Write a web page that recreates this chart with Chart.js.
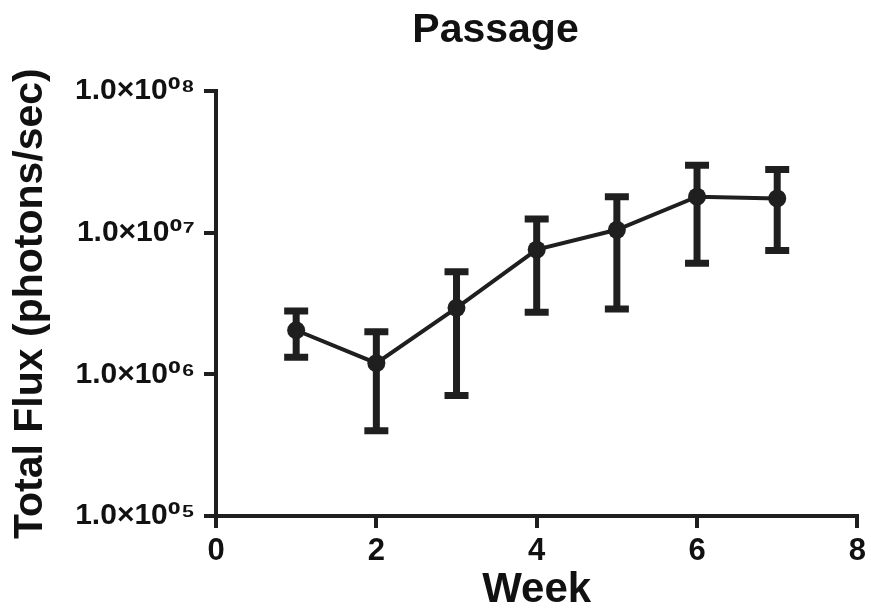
<!DOCTYPE html>
<html>
<head>
<meta charset="utf-8">
<script src="https://cdn.jsdelivr.net/npm/chart.js@4/dist/chart.umd.min.js"></script>
<style>
  html, body { margin: 0; padding: 0; background: #fff; }
  #c { display: block; }
</style>
</head>
<body>
<canvas id="c" width="871" height="609"></canvas>
<script>
// data
var weeks = [1, 2, 3, 4, 5, 6, 7];
var fluxMean = [2.05e6, 1.2e6, 2.95e6, 7.6e6, 1.05e7, 1.8e7, 1.75e7];
var fluxHigh = [2.8e6, 2.0e6, 5.3e6, 1.25e7, 1.8e7, 3.0e7, 2.8e7];
var fluxLow = [1.32e6, 4.0e5, 7.1e5, 2.75e6, 2.9e6, 6.1e6, 7.5e6];
var yTicks = [1e5, 1e6, 1e7, 1e8];
var yTickLabels = ["1.0×10⁰⁵", "1.0×10⁰⁶", "1.0×10⁰⁷", "1.0×10⁰⁸"];

var ink = "#1f1f1f";
var sans = "'Liberation Sans', Arial, sans-serif";
// Liberation lacks some superscript digits, so let DejaVu fill them in
var tickFamily = "'Liberation Sans', 'DejaVu Sans', sans-serif";

// draw the error bars with the chart's own scales
var errorBars = {
    id: "errorBars",
    afterDatasetsDraw: function (chart) {
        var ctx = chart.ctx;
        var xs = chart.scales.x, ys = chart.scales.y;
        ctx.save();
        ctx.strokeStyle = ink;
        ctx.lineWidth = 7;
        ctx.lineCap = "butt";
        for (var i = 0; i < weeks.length; i++) {
            var x = xs.getPixelForValue(weeks[i]);
            var top = ys.getPixelForValue(fluxHigh[i]);
            var bot = ys.getPixelForValue(fluxLow[i]);
            ctx.beginPath();
            ctx.moveTo(x, top);
            ctx.lineTo(x, bot);
            ctx.moveTo(x - 12, top);
            ctx.lineTo(x + 12, top);
            ctx.moveTo(x - 12, bot);
            ctx.lineTo(x + 12, bot);
            ctx.stroke();
        }
        ctx.restore();
    }
};

// the title in the original sits a bit right of the page centre
var titleShift = {
    id: "titleShift",
    afterLayout: function (chart) {
        if (chart.titleBlock) {
            chart.titleBlock.left += 66;
            chart.titleBlock.right += 66;
        }
    }
};

var ctx = document.getElementById("c").getContext("2d");
new Chart(ctx, {
    type: "line",
    data: {
        datasets: [{
            data: weeks.map(function (w, i) { return { x: w, y: fluxMean[i] }; }),
            borderColor: ink,
            backgroundColor: ink,
            borderWidth: 4,
            pointRadius: 9,
            pointBackgroundColor: ink,
            pointBorderWidth: 0,
            tension: 0
        }]
    },
    options: {
        responsive: false,
        animation: false,
        layout: { padding: { left: 0, right: 12, top: 0, bottom: 0 } },
        plugins: {
            legend: { display: false },
            tooltip: { enabled: false },
            title: {
                display: true,
                text: "Passage",
                color: "#111",
                font: { family: sans, size: 41, weight: "bold" },
                padding: { top: 6, bottom: 36 }
            }
        },
        scales: {
            x: {
                type: "linear",
                min: 0,
                max: 8,
                afterFit: function (s) { s.height = 93; },
                border: { display: true, color: ink, width: 4 },
                grid: { drawOnChartArea: false, color: ink, lineWidth: 4, tickLength: 12 },
                ticks: {
                    stepSize: 2,
                    color: "#111",
                    padding: 5,
                    font: { family: sans, size: 31, weight: "bold" }
                },
                title: {
                    display: true,
                    text: "Week",
                    color: "#111",
                    font: { family: sans, size: 42, weight: "bold", lineHeight: 0.9 },
                    padding: { top: 0, bottom: 0 }
                }
            },
            y: {
                type: "logarithmic",
                min: 1e5,
                max: 1e8,
                afterFit: function (s) { s.width = 216; },
                afterBuildTicks: function (s) {
                    s.ticks = yTicks.map(function (v) { return { value: v, major: true }; });
                },
                border: { display: true, color: ink, width: 4 },
                grid: { drawOnChartArea: false, color: ink, lineWidth: 4, tickLength: 12 },
                ticks: {
                    color: "#111",
                    padding: 9,
                    autoSkip: false,
                    font: { family: tickFamily, size: 30, weight: "bold" },
                    callback: function (v) {
                        var k = yTicks.indexOf(v);
                        return k >= 0 ? yTickLabels[k] : "";
                    }
                },
                title: {
                    display: true,
                    text: "Total Flux (photons/sec)",
                    color: "#111",
                    font: { family: sans, size: 41, weight: "bold" },
                    padding: { top: 6, bottom: 0 }
                }
            }
        }
    },
    plugins: [errorBars, titleShift]
});
</script>
</body>
</html>
